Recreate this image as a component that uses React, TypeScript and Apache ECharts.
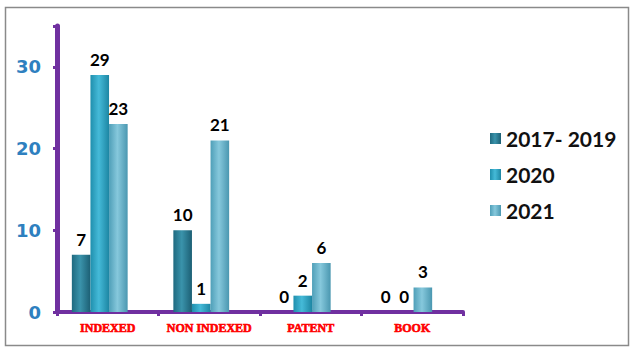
import React, { useEffect, useRef } from "react";
import * as echarts from "echarts";

const categories = ["INDEXED", "NON INDEXED", "PATENT", "BOOK"];
const seriesNames = ["2017- 2019", "2020", "2021"];
const values2017_2019 = [7, 10, 0, 0];
const values2020 = [29, 1, 2, 0];
const values2021 = [23, 21, 6, 3];
const yTicks = [0, 10, 20, 30];

const palettes = [
  ["#1f6a80", "#3a93ab", "#1c5f74"],
  ["#1f8fad", "#45bad8", "#1d86a3"],
  ["#4f9fb8", "#86c8dc", "#4a97b0"],
];

function grad(c: string[]) {
  return new echarts.graphic.LinearGradient(0, 0, 1, 0, [
    { offset: 0, color: c[0] },
    { offset: 0.45, color: c[1] },
    { offset: 1, color: c[2] },
  ]);
}

export default function App() {
  const ref = useRef<HTMLDivElement>(null);
  useEffect(() => {
    if (!ref.current) return;
    const chart = echarts.init(ref.current, undefined, { renderer: "svg" });
    const data = [values2017_2019, values2020, values2021];
    const top = 26;
    const bottom = 46;
    chart.setOption({
      animation: false,
      backgroundColor: "#ffffff",
      graphic: [
        {
          type: "rect",
          shape: { x: 5.5, y: 7.5, width: 623, height: 338 },
          style: { fill: "none", stroke: "#8a8a8a", lineWidth: 1.5 },
          silent: true,
        },
      ],
      legend: {
        orient: "vertical",
        left: 485,
        top: 123,
        itemWidth: 11,
        itemHeight: 11,
        itemGap: 15,
        icon: "rect",
        data: seriesNames,
        textStyle: {
          fontFamily: "Lato",
          fontWeight: "bold",
          fontSize: 21,
          color: "#111",
          padding: [0, 0, 0, 0],
        },
      },
      grid: [
        { left: 49, right: 186, top, bottom },
        { left: 57, right: 178, top, bottom },
      ],
      xAxis: [
        {
          type: "category",
          gridIndex: 0,
          data: categories,
          show: false,
        },
        {
          type: "category",
          gridIndex: 1,
          data: categories,
          axisLine: { lineStyle: { color: "#7030a0", width: 4 } },
          axisTick: { show: true, length: 4, lineStyle: { color: "#7030a0", width: 3 } },
          axisLabel: {
            interval: 0,
            color: "#ff0000",
            fontFamily: "Liberation Serif",
            fontWeight: "bold",
            fontSize: 12,
            margin: 10,
            textBorderColor: "#ff0000",
            textBorderWidth: 0.6,
          },
        },
      ],
      yAxis: [
        {
          type: "value",
          gridIndex: 0,
          min: 0,
          max: 35,
          interval: 10,
          show: false,
          splitLine: { show: false },
        },
        {
          type: "value",
          gridIndex: 1,
          min: 0,
          max: 35,
          interval: 10,
          axisLine: { show: true, lineStyle: { color: "#7030a0", width: 5 } },
          axisTick: { show: true, length: 4, lineStyle: { color: "#7030a0", width: 3 } },
          splitLine: { show: false },
          axisLabel: {
            color: "#2e80bf",
            fontFamily: "DejaVu Sans",
            fontWeight: "bold",
            fontSize: 18,
            margin: 16,
            formatter: (v: number) => (yTicks.includes(v) ? String(v) : ""),
          },
        },
      ],
      series: seriesNames.map((name, i) => ({
        name,
        type: "bar",
        xAxisIndex: 0,
        yAxisIndex: 0,
        data: data[i],
        barWidth: 18.6,
        barGap: "0%",
        itemStyle: { color: grad(palettes[i]) },
        label: {
          show: true,
          position: "top",
          distance: 7,
          color: "#000",
          fontFamily: "Lato",
          fontWeight: "bold",
          fontSize: 17,
        },
      })),
    });
    return () => chart.dispose();
  }, []);
  return (
    <div
      ref={ref}
      style={{ position: "fixed", left: 0, top: 0, width: 641, height: 358 }}
    />
  );
}
